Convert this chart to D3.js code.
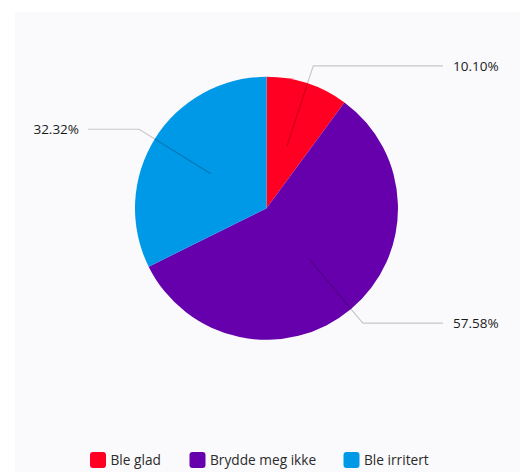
<!DOCTYPE html>
<html>
<head>
<meta charset="utf-8">
<script src="https://cdn.jsdelivr.net/npm/d3@7"></script>
<style>
  html, body { margin: 0; padding: 0; background: #ffffff; }
  svg { display: block; font-family: "Open Sans", sans-serif; }
</style>
</head>
<body>
<svg id="chart" width="526" height="472"></svg>
<script>
// Answer categories and their share of responses (percent)
const categories = ["Ble glad", "Brydde meg ikke", "Ble irritert"];
const values = [10.10, 57.58, 32.32];
const colors = ["#ff0022", "#6600ad", "#0099e8"];

const svg = d3.select("#chart");
const W = 526, H = 472;

// Panel background
svg.append("rect")
  .attr("x", 15).attr("y", 12)
  .attr("width", 505).attr("height", H - 12)
  .attr("fill", "#fafafc");

const cx = 266.5, cy = 208.3, r = 131.5;

const pie = d3.pie().sort(null).value(d => d.value);
const arcs = pie(categories.map((c, i) => ({ name: c, value: values[i], color: colors[i] })));

const arc = d3.arc().innerRadius(0).outerRadius(r);
const g = svg.append("g").attr("transform", `translate(${cx},${cy})`);

g.selectAll("path.slice")
  .data(arcs)
  .join("path")
  .attr("class", "slice")
  .attr("d", arc)
  .attr("fill", d => d.data.color);

// Leader lines: from half radius through an elbow at ~1.14r, then horizontal
const innerArc = d3.arc().innerRadius(r * 0.5).outerRadius(r * 0.5);
const elbowArc = d3.arc().innerRadius(r * 1.14).outerRadius(r * 1.14);
const lineEndX = { right: 443 - cx, left: 88 - cx };
const labelX = { right: 453 - cx, left: 79 - cx };

arcs.forEach(d => {
  const mid = (d.startAngle + d.endAngle) / 2;
  const side = mid < Math.PI ? "right" : "left";
  const p0 = innerArc.centroid(d);
  const p1 = elbowArc.centroid(d);
  const p2 = [lineEndX[side], p1[1]];
  g.append("polyline")
    .attr("points", [p0, p1, p2].map(p => p.join(",")).join(" "))
    .attr("fill", "none")
    .attr("stroke", "#000")
    .attr("stroke-opacity", 0.2)
    .attr("stroke-width", 1.2);
  g.append("text")
    .attr("x", labelX[side])
    .attr("y", p1[1])
    .attr("dy", "0.35em")
    .attr("text-anchor", side === "right" ? "start" : "end")
    .attr("font-size", 13.5)
    .attr("fill", "#1a1a1a")
    .text(d.data.value.toFixed(2) + "%");
});

// Legend
const legendX = [90, 189.5, 343.5];
const legend = svg.append("g");
categories.forEach((c, i) => {
  legend.append("rect")
    .attr("x", legendX[i]).attr("y", 452)
    .attr("width", 16).attr("height", 16)
    .attr("rx", 3)
    .attr("fill", colors[i]);
  legend.append("text")
    .attr("x", legendX[i] + 20.5)
    .attr("y", 460)
    .attr("dy", "0.35em")
    .attr("font-size", 13.7)
    .attr("fill", "#2a2a2a")
    .text(c);
});
</script>
</body>
</html>
